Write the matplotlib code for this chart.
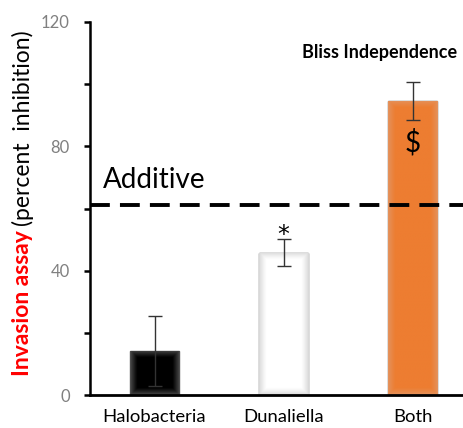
import numpy as np
import matplotlib.pyplot as plt
from matplotlib.colors import to_rgb

plt.rcParams['font.family'] = ['Lato', 'DejaVu Sans']

categories = ['Halobacteria', 'Dunaliella', 'Both']
values = [14.2, 45.8, 94.7]
errors = [11.2, 4.3, 6.1]
additive = 61.0
center_colors = ['#000000', '#ffffff', '#ED7D31']
edge_colors = ['#505050', '#d8d8d8', '#E3935E']

W, H = 463, 428
fig = plt.figure(figsize=(W / 100, H / 100), dpi=100)
ax = fig.add_axes([89.5 / W, 33 / H, (W - 89.5) / W, 373 / H])

x = np.arange(len(categories))
bars = ax.bar(x, values, width=0.38, color=center_colors,
              edgecolor='#555555', linewidth=1.0, zorder=2)

# soft fade from the bar edges toward the centre, like the original fill
for b, c_in, c_out in zip(bars, center_colors, edge_colors):
    x0, y0 = b.get_x(), b.get_y()
    w, h = b.get_width(), b.get_height()
    gx = np.linspace(0, 1, 60)
    gy = np.linspace(0, 1, 300)
    dx = np.minimum(gx, 1 - gx)[None, :] * 49
    dy = np.minimum(gy, 1 - gy)[:, None] * h * 3.108
    d = np.minimum(dx, dy)
    t = np.clip(d / 7.0, 0, 1)[..., None] ** 0.8
    img = np.array(to_rgb(c_out)) * (1 - t) + np.array(to_rgb(c_in)) * t
    im = ax.imshow(img, extent=[x0, x0 + w, y0, y0 + h], origin='lower',
                   aspect='auto', zorder=2.5, interpolation='bilinear')
    im.set_clip_path(b)

ax.errorbar(x, values, yerr=errors, fmt='none', ecolor='#333333',
            elinewidth=1.0, capsize=5, capthick=1.0, zorder=4)

ax.axhline(additive, color='black', lw=2.8, dashes=(5.1, 2.6), zorder=5)
ax.text(-0.399, 66.6, 'Additive', fontsize=20, va='baseline', ha='left')
ax.text(1.143, 108.4, 'Bliss Independence', fontsize=13, fontweight='bold',
        ha='left', va='baseline')

ax.text(1, 49.3, '*', fontsize=17, family='DejaVu Sans',
        ha='center', va='baseline', zorder=6)
ax.text(2, 78.2, '$', fontsize=20, ha='center', va='baseline', zorder=6)

ax.set_xlim(-0.504, 2.39)
ax.set_ylim(0, 120)
ax.set_xticks(x)
ax.set_xticklabels(categories, fontsize=13.3)
ax.tick_params(axis='x', length=0, pad=10)
ax.set_yticks([0, 40, 80, 120])
ax.set_yticks([20, 60, 100], minor=True)
ax.tick_params(axis='y', which='both', direction='out', length=4.3,
               width=1.8, labelsize=12, labelcolor='#808080', pad=10)

for s in ['top', 'right']:
    ax.spines[s].set_visible(False)
ax.spines['left'].set_linewidth(1.8)
ax.spines['bottom'].set_linewidth(2.0)
ax.spines['left'].set_zorder(6)
ax.spines['bottom'].set_zorder(6)

# two-coloured y label
fig.text(23 / W, 1 - 303 / H, 'Invasion assay', rotation=90, color='red',
         fontweight='bold', fontsize=16.5, ha='center', va='center')
fig.text(23 / W, 1 - 128 / H, '(percent  inhibition)', rotation=90,
         color='black', fontsize=16.5, ha='center', va='center')

fig.savefig('out.png', dpi=100)
